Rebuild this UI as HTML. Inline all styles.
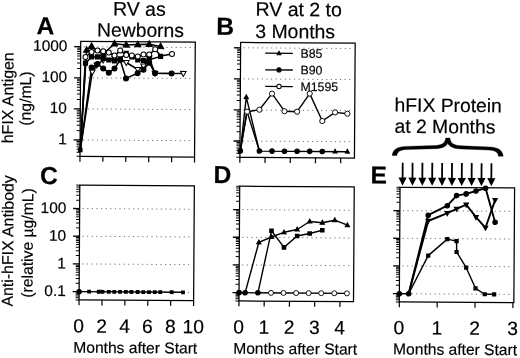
<!DOCTYPE html>
<html lang="en"><head><meta charset="utf-8"><title>Figure</title>
<style>
html,body{margin:0;padding:0;background:#fff;}
body{width:520px;height:358px;overflow:hidden;}
svg{display:block;font-family:"Liberation Sans", Arial, Helvetica, sans-serif;fill:#000;filter:blur(0.35px);}
text{stroke:#000;stroke-width:0.18px;}
</style></head><body>
<svg width="520" height="358" viewBox="0 0 520 358">
<rect width="520" height="358" fill="#fff"/>
<g transform="rotate(0.37 260.0 179.0)">
<rect x="79.85" y="42.60" width="114.55" height="114.85" fill="none" stroke="#000" stroke-width="1.25"/>
<line x1="82.85" y1="47.91" x2="193.40" y2="47.91" stroke="#555" stroke-width="0.9" stroke-dasharray="1.1 3.5"/>
<line x1="82.85" y1="78.99" x2="193.40" y2="78.99" stroke="#555" stroke-width="0.9" stroke-dasharray="1.1 3.5"/>
<line x1="82.85" y1="110.07" x2="193.40" y2="110.07" stroke="#555" stroke-width="0.9" stroke-dasharray="1.1 3.5"/>
<line x1="82.85" y1="141.15" x2="193.40" y2="141.15" stroke="#555" stroke-width="0.9" stroke-dasharray="1.1 3.5"/>
<line x1="76.35" y1="157.40" x2="79.85" y2="157.40" stroke="#000" stroke-width="1.0" />
<line x1="76.35" y1="153.52" x2="79.85" y2="153.52" stroke="#000" stroke-width="1.0" />
<line x1="76.35" y1="150.51" x2="79.85" y2="150.51" stroke="#000" stroke-width="1.0" />
<line x1="76.35" y1="148.05" x2="79.85" y2="148.05" stroke="#000" stroke-width="1.0" />
<line x1="76.35" y1="145.96" x2="79.85" y2="145.96" stroke="#000" stroke-width="1.0" />
<line x1="76.35" y1="144.16" x2="79.85" y2="144.16" stroke="#000" stroke-width="1.0" />
<line x1="76.35" y1="142.57" x2="79.85" y2="142.57" stroke="#000" stroke-width="1.0" />
<line x1="73.35" y1="141.15" x2="79.85" y2="141.15" stroke="#000" stroke-width="1.3" />
<line x1="76.35" y1="131.79" x2="79.85" y2="131.79" stroke="#000" stroke-width="1.0" />
<line x1="76.35" y1="126.32" x2="79.85" y2="126.32" stroke="#000" stroke-width="1.0" />
<line x1="76.35" y1="122.44" x2="79.85" y2="122.44" stroke="#000" stroke-width="1.0" />
<line x1="76.35" y1="119.43" x2="79.85" y2="119.43" stroke="#000" stroke-width="1.0" />
<line x1="76.35" y1="116.97" x2="79.85" y2="116.97" stroke="#000" stroke-width="1.0" />
<line x1="76.35" y1="114.88" x2="79.85" y2="114.88" stroke="#000" stroke-width="1.0" />
<line x1="76.35" y1="113.08" x2="79.85" y2="113.08" stroke="#000" stroke-width="1.0" />
<line x1="76.35" y1="111.49" x2="79.85" y2="111.49" stroke="#000" stroke-width="1.0" />
<line x1="73.35" y1="110.07" x2="79.85" y2="110.07" stroke="#000" stroke-width="1.3" />
<line x1="76.35" y1="100.71" x2="79.85" y2="100.71" stroke="#000" stroke-width="1.0" />
<line x1="76.35" y1="95.24" x2="79.85" y2="95.24" stroke="#000" stroke-width="1.0" />
<line x1="76.35" y1="91.36" x2="79.85" y2="91.36" stroke="#000" stroke-width="1.0" />
<line x1="76.35" y1="88.35" x2="79.85" y2="88.35" stroke="#000" stroke-width="1.0" />
<line x1="76.35" y1="85.89" x2="79.85" y2="85.89" stroke="#000" stroke-width="1.0" />
<line x1="76.35" y1="83.80" x2="79.85" y2="83.80" stroke="#000" stroke-width="1.0" />
<line x1="76.35" y1="82.00" x2="79.85" y2="82.00" stroke="#000" stroke-width="1.0" />
<line x1="76.35" y1="80.41" x2="79.85" y2="80.41" stroke="#000" stroke-width="1.0" />
<line x1="73.35" y1="78.99" x2="79.85" y2="78.99" stroke="#000" stroke-width="1.3" />
<line x1="76.35" y1="69.63" x2="79.85" y2="69.63" stroke="#000" stroke-width="1.0" />
<line x1="76.35" y1="64.16" x2="79.85" y2="64.16" stroke="#000" stroke-width="1.0" />
<line x1="76.35" y1="60.28" x2="79.85" y2="60.28" stroke="#000" stroke-width="1.0" />
<line x1="76.35" y1="57.27" x2="79.85" y2="57.27" stroke="#000" stroke-width="1.0" />
<line x1="76.35" y1="54.81" x2="79.85" y2="54.81" stroke="#000" stroke-width="1.0" />
<line x1="76.35" y1="52.72" x2="79.85" y2="52.72" stroke="#000" stroke-width="1.0" />
<line x1="76.35" y1="50.92" x2="79.85" y2="50.92" stroke="#000" stroke-width="1.0" />
<line x1="76.35" y1="49.33" x2="79.85" y2="49.33" stroke="#000" stroke-width="1.0" />
<line x1="73.35" y1="47.91" x2="79.85" y2="47.91" stroke="#000" stroke-width="1.3" />
<line x1="79.85" y1="157.45" x2="79.85" y2="162.85" stroke="#000" stroke-width="1.2" />
<line x1="102.76" y1="157.45" x2="102.76" y2="162.85" stroke="#000" stroke-width="1.2" />
<line x1="125.67" y1="157.45" x2="125.67" y2="162.85" stroke="#000" stroke-width="1.2" />
<line x1="148.58" y1="157.45" x2="148.58" y2="162.85" stroke="#000" stroke-width="1.2" />
<line x1="171.49" y1="157.45" x2="171.49" y2="162.85" stroke="#000" stroke-width="1.2" />
<line x1="194.40" y1="157.45" x2="194.40" y2="162.85" stroke="#000" stroke-width="1.2" />
<text x="66.50" y="52.31" font-size="15.4" text-anchor="end" font-weight="normal" >1000</text>
<text x="66.50" y="83.39" font-size="15.4" text-anchor="end" font-weight="normal" >100</text>
<text x="66.50" y="114.47" font-size="15.4" text-anchor="end" font-weight="normal" >10</text>
<text x="66.50" y="145.55" font-size="15.4" text-anchor="end" font-weight="normal" >1</text>
<polyline points="80.12,151.16 85.77,51.12 90.75,47.29 96.68,52.65 102.39,54.72 113.63,44.64 125.34,45.77 136.93,45.39 148.33,44.92 159.75,47.04" fill="none" stroke="#000" stroke-width="1.5" stroke-linejoin="round"/>
<polyline points="80.12,151.16 84.72,58.03 90.78,53.09 96.67,51.65 102.38,52.22 107.99,53.48 113.71,56.54 119.37,51.51 125.40,55.87 131.01,56.33 137.01,57.19 142.70,55.35 148.40,55.32 154.36,49.98 160.01,56.64 171.19,54.47" fill="none" stroke="#000" stroke-width="1.5" stroke-linejoin="round"/>
<polyline points="80.12,151.16 84.76,64.33 90.82,57.99 96.71,57.95 102.42,59.42 108.03,60.98 113.74,61.74 119.43,59.71 125.39,54.27 131.01,57.83 137.03,60.59 142.74,61.25 148.43,60.42 159.81,57.04" fill="none" stroke="#000" stroke-width="1.5" stroke-linejoin="round"/>
<polyline points="80.12,151.16 90.88,68.69 96.76,65.05 102.49,69.41 108.12,73.78 113.79,69.54 119.43,60.91 125.35,79.27 136.92,73.99 142.80,70.45 148.45,63.42 154.32,73.98 170.92,73.97" fill="none" stroke="#000" stroke-width="1.5" stroke-linejoin="round"/>
<polyline points="80.12,151.16 91.61,73.09 96.17,66.06 102.43,61.02 113.72,58.94 125.55,63.37 137.10,70.29 142.77,66.75 148.42,58.72 154.32,73.98 182.62,73.90" fill="none" stroke="#000" stroke-width="1.5" stroke-linejoin="round"/>
<polygon points="91.61,76.11 88.81,71.07 94.41,71.07" fill="#fff" stroke="#000" stroke-width="1.0"/>
<polygon points="96.17,69.08 93.37,64.04 98.97,64.04" fill="#fff" stroke="#000" stroke-width="1.0"/>
<polygon points="102.43,64.04 99.63,59.00 105.23,59.00" fill="#fff" stroke="#000" stroke-width="1.0"/>
<polygon points="113.72,61.97 110.92,56.93 116.52,56.93" fill="#fff" stroke="#000" stroke-width="1.0"/>
<polygon points="125.55,66.39 122.75,61.35 128.35,61.35" fill="#fff" stroke="#000" stroke-width="1.0"/>
<polygon points="137.10,73.32 134.30,68.28 139.90,68.28" fill="#fff" stroke="#000" stroke-width="1.0"/>
<polygon points="142.77,69.78 139.97,64.74 145.57,64.74" fill="#fff" stroke="#000" stroke-width="1.0"/>
<polygon points="148.42,61.74 145.62,56.70 151.22,56.70" fill="#fff" stroke="#000" stroke-width="1.0"/>
<polygon points="154.32,77.00 151.52,71.96 157.12,71.96" fill="#fff" stroke="#000" stroke-width="1.0"/>
<polygon points="182.62,76.92 179.82,71.88 185.42,71.88" fill="#fff" stroke="#000" stroke-width="1.0"/>
<circle cx="90.88" cy="68.69" r="2.5" fill="#000" stroke="#000" stroke-width="1.0"/>
<circle cx="96.76" cy="65.05" r="2.5" fill="#000" stroke="#000" stroke-width="1.0"/>
<circle cx="102.49" cy="69.41" r="2.5" fill="#000" stroke="#000" stroke-width="1.0"/>
<circle cx="108.12" cy="73.78" r="2.5" fill="#000" stroke="#000" stroke-width="1.0"/>
<circle cx="113.79" cy="69.54" r="2.5" fill="#000" stroke="#000" stroke-width="1.0"/>
<circle cx="119.43" cy="60.91" r="2.5" fill="#000" stroke="#000" stroke-width="1.0"/>
<circle cx="125.35" cy="79.27" r="2.5" fill="#000" stroke="#000" stroke-width="1.0"/>
<circle cx="136.92" cy="73.99" r="2.5" fill="#000" stroke="#000" stroke-width="1.0"/>
<circle cx="142.80" cy="70.45" r="2.5" fill="#000" stroke="#000" stroke-width="1.0"/>
<circle cx="148.45" cy="63.42" r="2.5" fill="#000" stroke="#000" stroke-width="1.0"/>
<circle cx="154.32" cy="73.98" r="2.5" fill="#000" stroke="#000" stroke-width="1.0"/>
<circle cx="170.92" cy="73.97" r="2.5" fill="#000" stroke="#000" stroke-width="1.0"/>
<rect x="82.16" y="61.73" width="5.2" height="5.2" fill="#000"/>
<rect x="88.22" y="55.39" width="5.2" height="5.2" fill="#000"/>
<rect x="94.11" y="55.35" width="5.2" height="5.2" fill="#000"/>
<rect x="99.82" y="56.82" width="5.2" height="5.2" fill="#000"/>
<rect x="105.43" y="58.38" width="5.2" height="5.2" fill="#000"/>
<rect x="111.14" y="59.14" width="5.2" height="5.2" fill="#000"/>
<rect x="116.83" y="57.11" width="5.2" height="5.2" fill="#000"/>
<rect x="122.79" y="51.67" width="5.2" height="5.2" fill="#000"/>
<rect x="128.41" y="55.23" width="5.2" height="5.2" fill="#000"/>
<rect x="134.43" y="57.99" width="5.2" height="5.2" fill="#000"/>
<rect x="140.14" y="58.65" width="5.2" height="5.2" fill="#000"/>
<rect x="145.83" y="57.82" width="5.2" height="5.2" fill="#000"/>
<rect x="157.21" y="54.44" width="5.2" height="5.2" fill="#000"/>
<polygon points="85.77,47.77 82.67,53.35 88.87,53.35" fill="#000" stroke="#000" stroke-width="1.0"/>
<polygon points="90.75,43.94 87.65,49.52 93.85,49.52" fill="#000" stroke="#000" stroke-width="1.0"/>
<polygon points="102.39,51.37 99.29,56.95 105.49,56.95" fill="#000" stroke="#000" stroke-width="1.0"/>
<polygon points="113.63,41.29 110.53,46.87 116.73,46.87" fill="#000" stroke="#000" stroke-width="1.0"/>
<polygon points="125.34,42.42 122.24,48.00 128.44,48.00" fill="#000" stroke="#000" stroke-width="1.0"/>
<polygon points="136.93,42.04 133.83,47.62 140.03,47.62" fill="#000" stroke="#000" stroke-width="1.0"/>
<polygon points="148.33,41.57 145.23,47.15 151.43,47.15" fill="#000" stroke="#000" stroke-width="1.0"/>
<polygon points="159.75,43.70 156.65,49.28 162.85,49.28" fill="#000" stroke="#000" stroke-width="1.0"/>
<circle cx="84.72" cy="58.03" r="2.5" fill="#fff" stroke="#000" stroke-width="1.0"/>
<circle cx="90.78" cy="53.09" r="2.5" fill="#fff" stroke="#000" stroke-width="1.0"/>
<circle cx="96.67" cy="51.65" r="2.5" fill="#fff" stroke="#000" stroke-width="1.0"/>
<circle cx="102.38" cy="52.22" r="2.5" fill="#fff" stroke="#000" stroke-width="1.0"/>
<circle cx="107.99" cy="53.48" r="2.5" fill="#fff" stroke="#000" stroke-width="1.0"/>
<circle cx="113.71" cy="56.54" r="2.5" fill="#fff" stroke="#000" stroke-width="1.0"/>
<circle cx="119.37" cy="51.51" r="2.5" fill="#fff" stroke="#000" stroke-width="1.0"/>
<circle cx="125.40" cy="55.87" r="2.5" fill="#fff" stroke="#000" stroke-width="1.0"/>
<circle cx="131.01" cy="56.33" r="2.5" fill="#fff" stroke="#000" stroke-width="1.0"/>
<circle cx="137.01" cy="57.19" r="2.5" fill="#fff" stroke="#000" stroke-width="1.0"/>
<circle cx="142.70" cy="55.35" r="2.5" fill="#fff" stroke="#000" stroke-width="1.0"/>
<circle cx="148.40" cy="55.32" r="2.5" fill="#fff" stroke="#000" stroke-width="1.0"/>
<circle cx="154.36" cy="49.98" r="2.5" fill="#fff" stroke="#000" stroke-width="1.0"/>
<circle cx="171.19" cy="54.47" r="2.5" fill="#fff" stroke="#000" stroke-width="1.0"/>
<rect x="77.87" y="148.91" width="4.5" height="4.5" fill="#000"/>
<rect x="239.75" y="42.60" width="114.55" height="114.85" fill="none" stroke="#000" stroke-width="1.25"/>
<line x1="242.75" y1="47.91" x2="353.30" y2="47.91" stroke="#555" stroke-width="0.9" stroke-dasharray="1.1 3.5"/>
<line x1="242.75" y1="78.99" x2="353.30" y2="78.99" stroke="#555" stroke-width="0.9" stroke-dasharray="1.1 3.5"/>
<line x1="242.75" y1="110.07" x2="353.30" y2="110.07" stroke="#555" stroke-width="0.9" stroke-dasharray="1.1 3.5"/>
<line x1="242.75" y1="141.15" x2="353.30" y2="141.15" stroke="#555" stroke-width="0.9" stroke-dasharray="1.1 3.5"/>
<line x1="236.25" y1="157.40" x2="239.75" y2="157.40" stroke="#000" stroke-width="1.0" />
<line x1="236.25" y1="153.52" x2="239.75" y2="153.52" stroke="#000" stroke-width="1.0" />
<line x1="236.25" y1="150.51" x2="239.75" y2="150.51" stroke="#000" stroke-width="1.0" />
<line x1="236.25" y1="148.05" x2="239.75" y2="148.05" stroke="#000" stroke-width="1.0" />
<line x1="236.25" y1="145.96" x2="239.75" y2="145.96" stroke="#000" stroke-width="1.0" />
<line x1="236.25" y1="144.16" x2="239.75" y2="144.16" stroke="#000" stroke-width="1.0" />
<line x1="236.25" y1="142.57" x2="239.75" y2="142.57" stroke="#000" stroke-width="1.0" />
<line x1="233.25" y1="141.15" x2="239.75" y2="141.15" stroke="#000" stroke-width="1.3" />
<line x1="236.25" y1="131.79" x2="239.75" y2="131.79" stroke="#000" stroke-width="1.0" />
<line x1="236.25" y1="126.32" x2="239.75" y2="126.32" stroke="#000" stroke-width="1.0" />
<line x1="236.25" y1="122.44" x2="239.75" y2="122.44" stroke="#000" stroke-width="1.0" />
<line x1="236.25" y1="119.43" x2="239.75" y2="119.43" stroke="#000" stroke-width="1.0" />
<line x1="236.25" y1="116.97" x2="239.75" y2="116.97" stroke="#000" stroke-width="1.0" />
<line x1="236.25" y1="114.88" x2="239.75" y2="114.88" stroke="#000" stroke-width="1.0" />
<line x1="236.25" y1="113.08" x2="239.75" y2="113.08" stroke="#000" stroke-width="1.0" />
<line x1="236.25" y1="111.49" x2="239.75" y2="111.49" stroke="#000" stroke-width="1.0" />
<line x1="233.25" y1="110.07" x2="239.75" y2="110.07" stroke="#000" stroke-width="1.3" />
<line x1="236.25" y1="100.71" x2="239.75" y2="100.71" stroke="#000" stroke-width="1.0" />
<line x1="236.25" y1="95.24" x2="239.75" y2="95.24" stroke="#000" stroke-width="1.0" />
<line x1="236.25" y1="91.36" x2="239.75" y2="91.36" stroke="#000" stroke-width="1.0" />
<line x1="236.25" y1="88.35" x2="239.75" y2="88.35" stroke="#000" stroke-width="1.0" />
<line x1="236.25" y1="85.89" x2="239.75" y2="85.89" stroke="#000" stroke-width="1.0" />
<line x1="236.25" y1="83.80" x2="239.75" y2="83.80" stroke="#000" stroke-width="1.0" />
<line x1="236.25" y1="82.00" x2="239.75" y2="82.00" stroke="#000" stroke-width="1.0" />
<line x1="236.25" y1="80.41" x2="239.75" y2="80.41" stroke="#000" stroke-width="1.0" />
<line x1="233.25" y1="78.99" x2="239.75" y2="78.99" stroke="#000" stroke-width="1.3" />
<line x1="236.25" y1="69.63" x2="239.75" y2="69.63" stroke="#000" stroke-width="1.0" />
<line x1="236.25" y1="64.16" x2="239.75" y2="64.16" stroke="#000" stroke-width="1.0" />
<line x1="236.25" y1="60.28" x2="239.75" y2="60.28" stroke="#000" stroke-width="1.0" />
<line x1="236.25" y1="57.27" x2="239.75" y2="57.27" stroke="#000" stroke-width="1.0" />
<line x1="236.25" y1="54.81" x2="239.75" y2="54.81" stroke="#000" stroke-width="1.0" />
<line x1="236.25" y1="52.72" x2="239.75" y2="52.72" stroke="#000" stroke-width="1.0" />
<line x1="236.25" y1="50.92" x2="239.75" y2="50.92" stroke="#000" stroke-width="1.0" />
<line x1="236.25" y1="49.33" x2="239.75" y2="49.33" stroke="#000" stroke-width="1.0" />
<line x1="233.25" y1="47.91" x2="239.75" y2="47.91" stroke="#000" stroke-width="1.3" />
<line x1="239.75" y1="157.45" x2="239.75" y2="162.85" stroke="#000" stroke-width="1.2" />
<line x1="264.95" y1="157.45" x2="264.95" y2="162.85" stroke="#000" stroke-width="1.2" />
<line x1="290.15" y1="157.45" x2="290.15" y2="162.85" stroke="#000" stroke-width="1.2" />
<line x1="315.35" y1="157.45" x2="315.35" y2="162.85" stroke="#000" stroke-width="1.2" />
<line x1="340.55" y1="157.45" x2="340.55" y2="162.85" stroke="#000" stroke-width="1.2" />
<polyline points="240.12,151.03 245.77,97.19 259.22,151.10 347.22,151.24" fill="none" stroke="#000" stroke-width="1.4" stroke-linejoin="round"/>
<polyline points="240.12,151.03 246.56,111.49 259.22,151.10" fill="none" stroke="#000" stroke-width="1.4" stroke-linejoin="round"/>
<polyline points="240.12,151.03 246.67,111.78 258.95,109.71 271.45,93.52 284.06,111.04 296.66,111.46 309.15,93.28 321.92,120.60 334.67,111.92 346.98,113.14" fill="none" stroke="#000" stroke-width="1.4" stroke-linejoin="round"/>
<circle cx="240.12" cy="151.03" r="2.3" fill="#000" stroke="#000" stroke-width="1.0"/>
<circle cx="259.22" cy="151.03" r="2.3" fill="#000" stroke="#000" stroke-width="1.0"/>
<circle cx="271.82" cy="151.03" r="2.3" fill="#000" stroke="#000" stroke-width="1.0"/>
<circle cx="284.32" cy="151.03" r="2.3" fill="#000" stroke="#000" stroke-width="1.0"/>
<circle cx="296.92" cy="151.03" r="2.3" fill="#000" stroke="#000" stroke-width="1.0"/>
<circle cx="309.52" cy="151.03" r="2.3" fill="#000" stroke="#000" stroke-width="1.0"/>
<circle cx="322.12" cy="151.03" r="2.3" fill="#000" stroke="#000" stroke-width="1.0"/>
<polygon points="334.92,148.77 332.82,152.55 337.02,152.55" fill="#000" stroke="#000" stroke-width="1.0"/>
<polygon points="347.22,148.77 345.12,152.55 349.32,152.55" fill="#000" stroke="#000" stroke-width="1.0"/>
<polygon points="245.77,94.92 243.67,98.70 247.87,98.70" fill="#000" stroke="#000" stroke-width="1.0"/>
<circle cx="246.67" cy="111.78" r="2.6" fill="#fff" stroke="#000" stroke-width="0.95"/>
<circle cx="258.95" cy="109.71" r="2.6" fill="#fff" stroke="#000" stroke-width="0.95"/>
<circle cx="271.45" cy="93.52" r="2.6" fill="#fff" stroke="#000" stroke-width="0.95"/>
<circle cx="284.06" cy="111.04" r="2.6" fill="#fff" stroke="#000" stroke-width="0.95"/>
<circle cx="296.66" cy="111.46" r="2.6" fill="#fff" stroke="#000" stroke-width="0.95"/>
<circle cx="309.15" cy="93.28" r="2.6" fill="#fff" stroke="#000" stroke-width="0.95"/>
<circle cx="321.92" cy="120.60" r="2.6" fill="#fff" stroke="#000" stroke-width="0.95"/>
<circle cx="334.67" cy="111.92" r="2.6" fill="#fff" stroke="#000" stroke-width="0.95"/>
<circle cx="346.98" cy="113.14" r="2.6" fill="#fff" stroke="#000" stroke-width="0.95"/>
<line x1="264.39" y1="53.17" x2="291.99" y2="53.17" stroke="#000" stroke-width="1.3" />
<polygon points="278.19,51.13 276.29,54.55 280.09,54.55" fill="#000" stroke="#000" stroke-width="1.0"/>
<text x="299.72" y="57.44" font-size="12.3" text-anchor="start" font-weight="normal" >B85</text>
<line x1="264.49" y1="69.77" x2="292.10" y2="69.77" stroke="#000" stroke-width="1.3" />
<circle cx="278.30" cy="69.78" r="2.1" fill="#000" stroke="#000" stroke-width="1.0"/>
<text x="299.82" y="74.04" font-size="12.3" text-anchor="start" font-weight="normal" >B90</text>
<line x1="264.60" y1="86.37" x2="292.20" y2="86.37" stroke="#000" stroke-width="1.3" />
<circle cx="278.40" cy="86.38" r="2.2" fill="#fff" stroke="#000" stroke-width="1.0"/>
<text x="299.93" y="90.64" font-size="12.3" text-anchor="start" font-weight="normal" >M1595</text>
<rect x="79.85" y="186.35" width="114.55" height="114.70" fill="none" stroke="#000" stroke-width="1.25"/>
<line x1="82.85" y1="209.70" x2="193.40" y2="209.70" stroke="#555" stroke-width="0.9" stroke-dasharray="1.1 3.5"/>
<line x1="82.85" y1="237.40" x2="193.40" y2="237.40" stroke="#555" stroke-width="0.9" stroke-dasharray="1.1 3.5"/>
<line x1="82.85" y1="265.10" x2="193.40" y2="265.10" stroke="#555" stroke-width="0.9" stroke-dasharray="1.1 3.5"/>
<line x1="82.85" y1="292.80" x2="193.40" y2="292.80" stroke="#555" stroke-width="0.9" stroke-dasharray="1.1 3.5"/>
<line x1="76.35" y1="301.14" x2="79.85" y2="301.14" stroke="#000" stroke-width="1.0" />
<line x1="76.35" y1="298.95" x2="79.85" y2="298.95" stroke="#000" stroke-width="1.0" />
<line x1="76.35" y1="297.09" x2="79.85" y2="297.09" stroke="#000" stroke-width="1.0" />
<line x1="76.35" y1="295.48" x2="79.85" y2="295.48" stroke="#000" stroke-width="1.0" />
<line x1="76.35" y1="294.07" x2="79.85" y2="294.07" stroke="#000" stroke-width="1.0" />
<line x1="73.35" y1="292.80" x2="79.85" y2="292.80" stroke="#000" stroke-width="1.3" />
<line x1="76.35" y1="284.46" x2="79.85" y2="284.46" stroke="#000" stroke-width="1.0" />
<line x1="76.35" y1="279.58" x2="79.85" y2="279.58" stroke="#000" stroke-width="1.0" />
<line x1="76.35" y1="276.12" x2="79.85" y2="276.12" stroke="#000" stroke-width="1.0" />
<line x1="76.35" y1="273.44" x2="79.85" y2="273.44" stroke="#000" stroke-width="1.0" />
<line x1="76.35" y1="271.25" x2="79.85" y2="271.25" stroke="#000" stroke-width="1.0" />
<line x1="76.35" y1="269.39" x2="79.85" y2="269.39" stroke="#000" stroke-width="1.0" />
<line x1="76.35" y1="267.78" x2="79.85" y2="267.78" stroke="#000" stroke-width="1.0" />
<line x1="76.35" y1="266.37" x2="79.85" y2="266.37" stroke="#000" stroke-width="1.0" />
<line x1="73.35" y1="265.10" x2="79.85" y2="265.10" stroke="#000" stroke-width="1.3" />
<line x1="76.35" y1="256.76" x2="79.85" y2="256.76" stroke="#000" stroke-width="1.0" />
<line x1="76.35" y1="251.88" x2="79.85" y2="251.88" stroke="#000" stroke-width="1.0" />
<line x1="76.35" y1="248.42" x2="79.85" y2="248.42" stroke="#000" stroke-width="1.0" />
<line x1="76.35" y1="245.74" x2="79.85" y2="245.74" stroke="#000" stroke-width="1.0" />
<line x1="76.35" y1="243.55" x2="79.85" y2="243.55" stroke="#000" stroke-width="1.0" />
<line x1="76.35" y1="241.69" x2="79.85" y2="241.69" stroke="#000" stroke-width="1.0" />
<line x1="76.35" y1="240.08" x2="79.85" y2="240.08" stroke="#000" stroke-width="1.0" />
<line x1="76.35" y1="238.67" x2="79.85" y2="238.67" stroke="#000" stroke-width="1.0" />
<line x1="73.35" y1="237.40" x2="79.85" y2="237.40" stroke="#000" stroke-width="1.3" />
<line x1="76.35" y1="229.06" x2="79.85" y2="229.06" stroke="#000" stroke-width="1.0" />
<line x1="76.35" y1="224.18" x2="79.85" y2="224.18" stroke="#000" stroke-width="1.0" />
<line x1="76.35" y1="220.72" x2="79.85" y2="220.72" stroke="#000" stroke-width="1.0" />
<line x1="76.35" y1="218.04" x2="79.85" y2="218.04" stroke="#000" stroke-width="1.0" />
<line x1="76.35" y1="215.85" x2="79.85" y2="215.85" stroke="#000" stroke-width="1.0" />
<line x1="76.35" y1="213.99" x2="79.85" y2="213.99" stroke="#000" stroke-width="1.0" />
<line x1="76.35" y1="212.38" x2="79.85" y2="212.38" stroke="#000" stroke-width="1.0" />
<line x1="76.35" y1="210.97" x2="79.85" y2="210.97" stroke="#000" stroke-width="1.0" />
<line x1="73.35" y1="209.70" x2="79.85" y2="209.70" stroke="#000" stroke-width="1.3" />
<line x1="76.35" y1="201.36" x2="79.85" y2="201.36" stroke="#000" stroke-width="1.0" />
<line x1="76.35" y1="196.48" x2="79.85" y2="196.48" stroke="#000" stroke-width="1.0" />
<line x1="76.35" y1="193.02" x2="79.85" y2="193.02" stroke="#000" stroke-width="1.0" />
<line x1="76.35" y1="190.34" x2="79.85" y2="190.34" stroke="#000" stroke-width="1.0" />
<line x1="76.35" y1="188.15" x2="79.85" y2="188.15" stroke="#000" stroke-width="1.0" />
<line x1="76.35" y1="186.29" x2="79.85" y2="186.29" stroke="#000" stroke-width="1.0" />
<line x1="79.85" y1="301.05" x2="79.85" y2="306.45" stroke="#000" stroke-width="1.2" />
<line x1="102.76" y1="301.05" x2="102.76" y2="306.45" stroke="#000" stroke-width="1.2" />
<line x1="125.67" y1="301.05" x2="125.67" y2="306.45" stroke="#000" stroke-width="1.2" />
<line x1="148.58" y1="301.05" x2="148.58" y2="306.45" stroke="#000" stroke-width="1.2" />
<line x1="171.49" y1="301.05" x2="171.49" y2="306.45" stroke="#000" stroke-width="1.2" />
<line x1="194.40" y1="301.05" x2="194.40" y2="306.45" stroke="#000" stroke-width="1.2" />
<text x="66.50" y="214.30" font-size="15.4" text-anchor="end" font-weight="normal" >100</text>
<text x="66.50" y="242.00" font-size="15.4" text-anchor="end" font-weight="normal" >10</text>
<text x="66.50" y="269.70" font-size="15.4" text-anchor="end" font-weight="normal" >1</text>
<text x="66.50" y="297.40" font-size="15.4" text-anchor="end" font-weight="normal" >0.1</text>
<line x1="79.85" y1="292.80" x2="183.70" y2="292.80" stroke="#000" stroke-width="1.4" />
<rect x="77.95" y="290.90" width="3.8" height="3.8" fill="#000"/>
<rect x="88.00" y="290.90" width="3.8" height="3.8" fill="#000"/>
<rect x="97.60" y="290.90" width="3.8" height="3.8" fill="#000"/>
<rect x="101.30" y="290.90" width="3.8" height="3.8" fill="#000"/>
<rect x="107.60" y="290.90" width="3.8" height="3.8" fill="#000"/>
<rect x="113.10" y="290.90" width="3.8" height="3.8" fill="#000"/>
<rect x="118.90" y="290.90" width="3.8" height="3.8" fill="#000"/>
<rect x="124.70" y="290.90" width="3.8" height="3.8" fill="#000"/>
<rect x="130.20" y="290.90" width="3.8" height="3.8" fill="#000"/>
<rect x="136.50" y="290.90" width="3.8" height="3.8" fill="#000"/>
<rect x="142.10" y="290.90" width="3.8" height="3.8" fill="#000"/>
<rect x="147.80" y="290.90" width="3.8" height="3.8" fill="#000"/>
<rect x="153.60" y="290.90" width="3.8" height="3.8" fill="#000"/>
<rect x="159.10" y="290.90" width="3.8" height="3.8" fill="#000"/>
<rect x="170.50" y="290.90" width="3.8" height="3.8" fill="#000"/>
<rect x="181.80" y="290.90" width="3.8" height="3.8" fill="#000"/>
<circle cx="79.85" cy="292.80" r="2.2" fill="#000" stroke="#000" stroke-width="1.0"/>
<text x="79.65" y="333.70" font-size="19.2" text-anchor="middle" font-weight="normal" >0</text>
<text x="102.56" y="333.70" font-size="19.2" text-anchor="middle" font-weight="normal" >2</text>
<text x="125.47" y="333.70" font-size="19.2" text-anchor="middle" font-weight="normal" >4</text>
<text x="148.38" y="333.70" font-size="19.2" text-anchor="middle" font-weight="normal" >6</text>
<text x="171.29" y="333.70" font-size="19.2" text-anchor="middle" font-weight="normal" >8</text>
<text x="194.20" y="333.70" font-size="19.2" text-anchor="middle" font-weight="normal" >10</text>
<text x="136.35" y="353.90" font-size="15.6" text-anchor="middle" font-weight="normal" >Months after Start</text>
<rect x="239.75" y="186.35" width="114.55" height="114.70" fill="none" stroke="#000" stroke-width="1.25"/>
<line x1="242.75" y1="209.70" x2="353.30" y2="209.70" stroke="#555" stroke-width="0.9" stroke-dasharray="1.1 3.5"/>
<line x1="242.75" y1="237.40" x2="353.30" y2="237.40" stroke="#555" stroke-width="0.9" stroke-dasharray="1.1 3.5"/>
<line x1="242.75" y1="265.10" x2="353.30" y2="265.10" stroke="#555" stroke-width="0.9" stroke-dasharray="1.1 3.5"/>
<line x1="242.75" y1="292.80" x2="353.30" y2="292.80" stroke="#555" stroke-width="0.9" stroke-dasharray="1.1 3.5"/>
<line x1="236.25" y1="301.14" x2="239.75" y2="301.14" stroke="#000" stroke-width="1.0" />
<line x1="236.25" y1="298.95" x2="239.75" y2="298.95" stroke="#000" stroke-width="1.0" />
<line x1="236.25" y1="297.09" x2="239.75" y2="297.09" stroke="#000" stroke-width="1.0" />
<line x1="236.25" y1="295.48" x2="239.75" y2="295.48" stroke="#000" stroke-width="1.0" />
<line x1="236.25" y1="294.07" x2="239.75" y2="294.07" stroke="#000" stroke-width="1.0" />
<line x1="233.25" y1="292.80" x2="239.75" y2="292.80" stroke="#000" stroke-width="1.3" />
<line x1="236.25" y1="284.46" x2="239.75" y2="284.46" stroke="#000" stroke-width="1.0" />
<line x1="236.25" y1="279.58" x2="239.75" y2="279.58" stroke="#000" stroke-width="1.0" />
<line x1="236.25" y1="276.12" x2="239.75" y2="276.12" stroke="#000" stroke-width="1.0" />
<line x1="236.25" y1="273.44" x2="239.75" y2="273.44" stroke="#000" stroke-width="1.0" />
<line x1="236.25" y1="271.25" x2="239.75" y2="271.25" stroke="#000" stroke-width="1.0" />
<line x1="236.25" y1="269.39" x2="239.75" y2="269.39" stroke="#000" stroke-width="1.0" />
<line x1="236.25" y1="267.78" x2="239.75" y2="267.78" stroke="#000" stroke-width="1.0" />
<line x1="236.25" y1="266.37" x2="239.75" y2="266.37" stroke="#000" stroke-width="1.0" />
<line x1="233.25" y1="265.10" x2="239.75" y2="265.10" stroke="#000" stroke-width="1.3" />
<line x1="236.25" y1="256.76" x2="239.75" y2="256.76" stroke="#000" stroke-width="1.0" />
<line x1="236.25" y1="251.88" x2="239.75" y2="251.88" stroke="#000" stroke-width="1.0" />
<line x1="236.25" y1="248.42" x2="239.75" y2="248.42" stroke="#000" stroke-width="1.0" />
<line x1="236.25" y1="245.74" x2="239.75" y2="245.74" stroke="#000" stroke-width="1.0" />
<line x1="236.25" y1="243.55" x2="239.75" y2="243.55" stroke="#000" stroke-width="1.0" />
<line x1="236.25" y1="241.69" x2="239.75" y2="241.69" stroke="#000" stroke-width="1.0" />
<line x1="236.25" y1="240.08" x2="239.75" y2="240.08" stroke="#000" stroke-width="1.0" />
<line x1="236.25" y1="238.67" x2="239.75" y2="238.67" stroke="#000" stroke-width="1.0" />
<line x1="233.25" y1="237.40" x2="239.75" y2="237.40" stroke="#000" stroke-width="1.3" />
<line x1="236.25" y1="229.06" x2="239.75" y2="229.06" stroke="#000" stroke-width="1.0" />
<line x1="236.25" y1="224.18" x2="239.75" y2="224.18" stroke="#000" stroke-width="1.0" />
<line x1="236.25" y1="220.72" x2="239.75" y2="220.72" stroke="#000" stroke-width="1.0" />
<line x1="236.25" y1="218.04" x2="239.75" y2="218.04" stroke="#000" stroke-width="1.0" />
<line x1="236.25" y1="215.85" x2="239.75" y2="215.85" stroke="#000" stroke-width="1.0" />
<line x1="236.25" y1="213.99" x2="239.75" y2="213.99" stroke="#000" stroke-width="1.0" />
<line x1="236.25" y1="212.38" x2="239.75" y2="212.38" stroke="#000" stroke-width="1.0" />
<line x1="236.25" y1="210.97" x2="239.75" y2="210.97" stroke="#000" stroke-width="1.0" />
<line x1="233.25" y1="209.70" x2="239.75" y2="209.70" stroke="#000" stroke-width="1.3" />
<line x1="236.25" y1="201.36" x2="239.75" y2="201.36" stroke="#000" stroke-width="1.0" />
<line x1="236.25" y1="196.48" x2="239.75" y2="196.48" stroke="#000" stroke-width="1.0" />
<line x1="236.25" y1="193.02" x2="239.75" y2="193.02" stroke="#000" stroke-width="1.0" />
<line x1="236.25" y1="190.34" x2="239.75" y2="190.34" stroke="#000" stroke-width="1.0" />
<line x1="236.25" y1="188.15" x2="239.75" y2="188.15" stroke="#000" stroke-width="1.0" />
<line x1="236.25" y1="186.29" x2="239.75" y2="186.29" stroke="#000" stroke-width="1.0" />
<line x1="239.75" y1="301.05" x2="239.75" y2="306.45" stroke="#000" stroke-width="1.2" />
<line x1="265.00" y1="301.05" x2="265.00" y2="306.45" stroke="#000" stroke-width="1.2" />
<line x1="290.25" y1="301.05" x2="290.25" y2="306.45" stroke="#000" stroke-width="1.2" />
<line x1="315.50" y1="301.05" x2="315.50" y2="306.45" stroke="#000" stroke-width="1.2" />
<line x1="340.75" y1="301.05" x2="340.75" y2="306.45" stroke="#000" stroke-width="1.2" />
<line x1="239.75" y1="292.80" x2="347.65" y2="292.80" stroke="#000" stroke-width="1.3" />
<polyline points="239.75,292.80 245.85,292.80 259.31,242.31 271.87,236.92 284.34,232.14 297.43,229.26 309.97,221.18 322.58,222.30 335.06,219.72 347.70,224.63" fill="none" stroke="#000" stroke-width="1.4" stroke-linejoin="round"/>
<polyline points="258.65,292.80 271.83,230.72 284.44,247.24 297.47,235.76 310.05,233.18 322.63,229.90" fill="none" stroke="#000" stroke-width="1.4" stroke-linejoin="round"/>
<circle cx="239.75" cy="292.80" r="2.3" fill="#000" stroke="#000" stroke-width="1.0"/>
<circle cx="245.85" cy="292.80" r="2.3" fill="#000" stroke="#000" stroke-width="1.0"/>
<circle cx="258.65" cy="292.80" r="2.3" fill="#000" stroke="#000" stroke-width="1.0"/>
<circle cx="271.75" cy="292.80" r="2.5" fill="#fff" stroke="#000" stroke-width="0.9"/>
<circle cx="284.25" cy="292.80" r="2.5" fill="#fff" stroke="#000" stroke-width="0.9"/>
<circle cx="296.85" cy="292.80" r="2.5" fill="#fff" stroke="#000" stroke-width="0.9"/>
<circle cx="309.45" cy="292.80" r="2.5" fill="#fff" stroke="#000" stroke-width="0.9"/>
<circle cx="321.95" cy="292.80" r="2.5" fill="#fff" stroke="#000" stroke-width="0.9"/>
<circle cx="335.05" cy="292.80" r="2.5" fill="#fff" stroke="#000" stroke-width="0.9"/>
<circle cx="347.65" cy="292.80" r="2.5" fill="#fff" stroke="#000" stroke-width="0.9"/>
<polygon points="259.31,239.93 257.11,243.89 261.51,243.89" fill="#000" stroke="#000" stroke-width="1.0"/>
<polygon points="271.87,234.55 269.67,238.51 274.07,238.51" fill="#000" stroke="#000" stroke-width="1.0"/>
<polygon points="284.34,229.77 282.14,233.73 286.54,233.73" fill="#000" stroke="#000" stroke-width="1.0"/>
<polygon points="297.43,226.88 295.23,230.84 299.63,230.84" fill="#000" stroke="#000" stroke-width="1.0"/>
<polygon points="309.97,218.80 307.77,222.76 312.17,222.76" fill="#000" stroke="#000" stroke-width="1.0"/>
<polygon points="322.58,219.92 320.38,223.88 324.78,223.88" fill="#000" stroke="#000" stroke-width="1.0"/>
<polygon points="335.06,217.34 332.86,221.30 337.26,221.30" fill="#000" stroke="#000" stroke-width="1.0"/>
<polygon points="347.70,222.26 345.50,226.22 349.90,226.22" fill="#000" stroke="#000" stroke-width="1.0"/>
<rect x="269.53" y="228.42" width="4.6" height="4.6" fill="#000"/>
<rect x="282.14" y="244.94" width="4.6" height="4.6" fill="#000"/>
<rect x="295.17" y="233.46" width="4.6" height="4.6" fill="#000"/>
<rect x="307.75" y="230.88" width="4.6" height="4.6" fill="#000"/>
<rect x="320.33" y="227.60" width="4.6" height="4.6" fill="#000"/>
<text x="239.55" y="333.70" font-size="19.2" text-anchor="middle" font-weight="normal" >0</text>
<text x="264.80" y="333.70" font-size="19.2" text-anchor="middle" font-weight="normal" >1</text>
<text x="290.05" y="333.70" font-size="19.2" text-anchor="middle" font-weight="normal" >2</text>
<text x="315.30" y="333.70" font-size="19.2" text-anchor="middle" font-weight="normal" >3</text>
<text x="340.55" y="333.70" font-size="19.2" text-anchor="middle" font-weight="normal" >4</text>
<text x="296.25" y="353.90" font-size="15.6" text-anchor="middle" font-weight="normal" >Months after Start</text>
<rect x="400.10" y="186.35" width="114.55" height="114.70" fill="none" stroke="#000" stroke-width="1.25"/>
<line x1="403.10" y1="209.70" x2="513.65" y2="209.70" stroke="#555" stroke-width="0.9" stroke-dasharray="1.1 3.5"/>
<line x1="403.10" y1="237.40" x2="513.65" y2="237.40" stroke="#555" stroke-width="0.9" stroke-dasharray="1.1 3.5"/>
<line x1="403.10" y1="265.10" x2="513.65" y2="265.10" stroke="#555" stroke-width="0.9" stroke-dasharray="1.1 3.5"/>
<line x1="403.10" y1="292.80" x2="513.65" y2="292.80" stroke="#555" stroke-width="0.9" stroke-dasharray="1.1 3.5"/>
<line x1="396.60" y1="301.14" x2="400.10" y2="301.14" stroke="#000" stroke-width="1.0" />
<line x1="396.60" y1="298.95" x2="400.10" y2="298.95" stroke="#000" stroke-width="1.0" />
<line x1="396.60" y1="297.09" x2="400.10" y2="297.09" stroke="#000" stroke-width="1.0" />
<line x1="396.60" y1="295.48" x2="400.10" y2="295.48" stroke="#000" stroke-width="1.0" />
<line x1="396.60" y1="294.07" x2="400.10" y2="294.07" stroke="#000" stroke-width="1.0" />
<line x1="393.60" y1="292.80" x2="400.10" y2="292.80" stroke="#000" stroke-width="1.3" />
<line x1="396.60" y1="284.46" x2="400.10" y2="284.46" stroke="#000" stroke-width="1.0" />
<line x1="396.60" y1="279.58" x2="400.10" y2="279.58" stroke="#000" stroke-width="1.0" />
<line x1="396.60" y1="276.12" x2="400.10" y2="276.12" stroke="#000" stroke-width="1.0" />
<line x1="396.60" y1="273.44" x2="400.10" y2="273.44" stroke="#000" stroke-width="1.0" />
<line x1="396.60" y1="271.25" x2="400.10" y2="271.25" stroke="#000" stroke-width="1.0" />
<line x1="396.60" y1="269.39" x2="400.10" y2="269.39" stroke="#000" stroke-width="1.0" />
<line x1="396.60" y1="267.78" x2="400.10" y2="267.78" stroke="#000" stroke-width="1.0" />
<line x1="396.60" y1="266.37" x2="400.10" y2="266.37" stroke="#000" stroke-width="1.0" />
<line x1="393.60" y1="265.10" x2="400.10" y2="265.10" stroke="#000" stroke-width="1.3" />
<line x1="396.60" y1="256.76" x2="400.10" y2="256.76" stroke="#000" stroke-width="1.0" />
<line x1="396.60" y1="251.88" x2="400.10" y2="251.88" stroke="#000" stroke-width="1.0" />
<line x1="396.60" y1="248.42" x2="400.10" y2="248.42" stroke="#000" stroke-width="1.0" />
<line x1="396.60" y1="245.74" x2="400.10" y2="245.74" stroke="#000" stroke-width="1.0" />
<line x1="396.60" y1="243.55" x2="400.10" y2="243.55" stroke="#000" stroke-width="1.0" />
<line x1="396.60" y1="241.69" x2="400.10" y2="241.69" stroke="#000" stroke-width="1.0" />
<line x1="396.60" y1="240.08" x2="400.10" y2="240.08" stroke="#000" stroke-width="1.0" />
<line x1="396.60" y1="238.67" x2="400.10" y2="238.67" stroke="#000" stroke-width="1.0" />
<line x1="393.60" y1="237.40" x2="400.10" y2="237.40" stroke="#000" stroke-width="1.3" />
<line x1="396.60" y1="229.06" x2="400.10" y2="229.06" stroke="#000" stroke-width="1.0" />
<line x1="396.60" y1="224.18" x2="400.10" y2="224.18" stroke="#000" stroke-width="1.0" />
<line x1="396.60" y1="220.72" x2="400.10" y2="220.72" stroke="#000" stroke-width="1.0" />
<line x1="396.60" y1="218.04" x2="400.10" y2="218.04" stroke="#000" stroke-width="1.0" />
<line x1="396.60" y1="215.85" x2="400.10" y2="215.85" stroke="#000" stroke-width="1.0" />
<line x1="396.60" y1="213.99" x2="400.10" y2="213.99" stroke="#000" stroke-width="1.0" />
<line x1="396.60" y1="212.38" x2="400.10" y2="212.38" stroke="#000" stroke-width="1.0" />
<line x1="396.60" y1="210.97" x2="400.10" y2="210.97" stroke="#000" stroke-width="1.0" />
<line x1="393.60" y1="209.70" x2="400.10" y2="209.70" stroke="#000" stroke-width="1.3" />
<line x1="396.60" y1="201.36" x2="400.10" y2="201.36" stroke="#000" stroke-width="1.0" />
<line x1="396.60" y1="196.48" x2="400.10" y2="196.48" stroke="#000" stroke-width="1.0" />
<line x1="396.60" y1="193.02" x2="400.10" y2="193.02" stroke="#000" stroke-width="1.0" />
<line x1="396.60" y1="190.34" x2="400.10" y2="190.34" stroke="#000" stroke-width="1.0" />
<line x1="396.60" y1="188.15" x2="400.10" y2="188.15" stroke="#000" stroke-width="1.0" />
<line x1="396.60" y1="186.29" x2="400.10" y2="186.29" stroke="#000" stroke-width="1.0" />
<line x1="400.10" y1="301.05" x2="400.10" y2="306.45" stroke="#000" stroke-width="1.2" />
<line x1="437.97" y1="301.05" x2="437.97" y2="306.45" stroke="#000" stroke-width="1.2" />
<line x1="475.84" y1="301.05" x2="475.84" y2="306.45" stroke="#000" stroke-width="1.2" />
<line x1="513.71" y1="301.05" x2="513.71" y2="306.45" stroke="#000" stroke-width="1.2" />
<polyline points="400.10,292.80 409.40,292.80" fill="none" stroke="#000" stroke-width="1.5" stroke-linejoin="round"/>
<polyline points="409.40,292.80 428.43,214.11 447.47,204.49 456.70,194.33 466.29,192.57 476.07,189.60 485.65,186.74 495.37,220.78" fill="none" stroke="#000" stroke-width="1.9" stroke-linejoin="round"/>
<polyline points="409.40,292.80 428.47,219.91 447.52,211.99 456.79,207.63 466.36,203.37 476.24,215.80 485.81,226.34 495.23,198.58" fill="none" stroke="#000" stroke-width="1.9" stroke-linejoin="round"/>
<polyline points="409.40,292.80 428.69,254.51 447.68,237.89 457.00,239.83 457.07,250.73 466.77,266.37 476.20,286.91 485.50,292.80 494.90,292.80" fill="none" stroke="#000" stroke-width="1.4" stroke-linejoin="round"/>
<circle cx="400.10" cy="292.80" r="2.3" fill="#000" stroke="#000" stroke-width="1.0"/>
<circle cx="409.40" cy="292.80" r="2.3" fill="#000" stroke="#000" stroke-width="1.0"/>
<circle cx="428.43" cy="214.11" r="2.3" fill="#000" stroke="#000" stroke-width="1.0"/>
<circle cx="447.47" cy="204.49" r="2.3" fill="#000" stroke="#000" stroke-width="1.0"/>
<circle cx="456.70" cy="194.33" r="2.3" fill="#000" stroke="#000" stroke-width="1.0"/>
<circle cx="466.29" cy="192.57" r="2.3" fill="#000" stroke="#000" stroke-width="1.0"/>
<circle cx="476.07" cy="189.60" r="2.3" fill="#000" stroke="#000" stroke-width="1.0"/>
<circle cx="485.65" cy="186.74" r="2.3" fill="#000" stroke="#000" stroke-width="1.0"/>
<circle cx="495.37" cy="220.78" r="2.3" fill="#000" stroke="#000" stroke-width="1.0"/>
<polygon points="428.47,222.40 426.17,218.26 430.77,218.26" fill="#000" stroke="#000" stroke-width="1.0"/>
<polygon points="447.52,214.47 445.22,210.33 449.82,210.33" fill="#000" stroke="#000" stroke-width="1.0"/>
<polygon points="456.79,210.11 454.49,205.97 459.09,205.97" fill="#000" stroke="#000" stroke-width="1.0"/>
<polygon points="466.36,205.85 464.06,201.71 468.66,201.71" fill="#000" stroke="#000" stroke-width="1.0"/>
<polygon points="476.24,218.29 473.94,214.15 478.54,214.15" fill="#000" stroke="#000" stroke-width="1.0"/>
<polygon points="485.81,228.83 483.51,224.69 488.11,224.69" fill="#000" stroke="#000" stroke-width="1.0"/>
<polygon points="495.23,201.07 492.93,196.93 497.53,196.93" fill="#000" stroke="#000" stroke-width="1.0"/>
<rect x="426.59" y="252.41" width="4.2" height="4.2" fill="#000"/>
<rect x="445.58" y="235.79" width="4.2" height="4.2" fill="#000"/>
<rect x="454.90" y="237.73" width="4.2" height="4.2" fill="#000"/>
<rect x="454.97" y="248.63" width="4.2" height="4.2" fill="#000"/>
<rect x="464.67" y="264.27" width="4.2" height="4.2" fill="#000"/>
<rect x="474.10" y="284.81" width="4.2" height="4.2" fill="#000"/>
<rect x="483.40" y="290.70" width="4.2" height="4.2" fill="#000"/>
<rect x="492.80" y="290.70" width="4.2" height="4.2" fill="#000"/>
<text x="399.90" y="333.30" font-size="19.2" text-anchor="middle" font-weight="normal" >0</text>
<text x="437.77" y="333.30" font-size="19.2" text-anchor="middle" font-weight="normal" >1</text>
<text x="475.64" y="333.30" font-size="19.2" text-anchor="middle" font-weight="normal" >2</text>
<text x="513.51" y="333.30" font-size="19.2" text-anchor="middle" font-weight="normal" >3</text>
<text x="456.20" y="353.50" font-size="15.6" text-anchor="middle" font-weight="normal" >Months after Start</text>
<line x1="402.60" y1="161.75" x2="402.60" y2="178.35" stroke="#000" stroke-width="1.8" />
<polygon points="398.50,176.65 406.70,176.65 402.60,184.75" fill="#000"/>
<line x1="412.46" y1="161.75" x2="412.46" y2="178.35" stroke="#000" stroke-width="1.8" />
<polygon points="408.36,176.65 416.56,176.65 412.46,184.75" fill="#000"/>
<line x1="422.32" y1="161.75" x2="422.32" y2="178.35" stroke="#000" stroke-width="1.8" />
<polygon points="418.22,176.65 426.42,176.65 422.32,184.75" fill="#000"/>
<line x1="432.18" y1="161.75" x2="432.18" y2="178.35" stroke="#000" stroke-width="1.8" />
<polygon points="428.08,176.65 436.28,176.65 432.18,184.75" fill="#000"/>
<line x1="442.04" y1="161.75" x2="442.04" y2="178.35" stroke="#000" stroke-width="1.8" />
<polygon points="437.94,176.65 446.14,176.65 442.04,184.75" fill="#000"/>
<line x1="451.90" y1="161.75" x2="451.90" y2="178.35" stroke="#000" stroke-width="1.8" />
<polygon points="447.80,176.65 456.00,176.65 451.90,184.75" fill="#000"/>
<line x1="461.76" y1="161.75" x2="461.76" y2="178.35" stroke="#000" stroke-width="1.8" />
<polygon points="457.66,176.65 465.86,176.65 461.76,184.75" fill="#000"/>
<line x1="471.62" y1="161.75" x2="471.62" y2="178.35" stroke="#000" stroke-width="1.8" />
<polygon points="467.52,176.65 475.72,176.65 471.62,184.75" fill="#000"/>
<line x1="481.48" y1="161.75" x2="481.48" y2="178.35" stroke="#000" stroke-width="1.8" />
<polygon points="477.38,176.65 485.58,176.65 481.48,184.75" fill="#000"/>
<line x1="491.34" y1="161.75" x2="491.34" y2="178.35" stroke="#000" stroke-width="1.8" />
<polygon points="487.24,176.65 495.44,176.65 491.34,184.75" fill="#000"/>
<path d="M447.53,136.79 L449.63,136.79 C450.13,141.99 453.53,144.19 461.53,144.49 L489.53,145.49 C497.53,145.79 502.53,148.29 503.03,154.69 L498.33,154.69 C497.93,150.59 494.53,148.79 488.53,148.59 L460.53,147.59 C453.53,147.29 449.03,145.69 447.53,141.69 Z M447.53,136.79 L445.43,136.79 C444.93,141.99 441.53,144.19 433.53,144.49 L405.53,145.49 C397.53,145.79 392.53,148.29 392.03,154.69 L396.73,154.69 C397.13,150.59 400.53,148.79 406.53,148.59 L434.53,147.59 C441.53,147.29 446.03,145.69 447.53,141.69 Z" fill="#000" stroke="#000" stroke-width="0.35"/>
<text x="138.25" y="16.48" font-size="19.5" text-anchor="middle" font-weight="normal" stroke="#000" stroke-width="0.2">RV as</text>
<text x="139.58" y="37.57" font-size="19.3" text-anchor="middle" font-weight="normal" stroke="#000" stroke-width="0.2">Newborns</text>
<text x="254.45" y="15.83" font-size="19.5" text-anchor="start" font-weight="normal" stroke="#000" stroke-width="0.2">RV at 2 to</text>
<text x="254.39" y="37.93" font-size="19.4" text-anchor="start" font-weight="normal" stroke="#000" stroke-width="0.2">3 Months</text>
<text x="394.16" y="110.73" font-size="19.3" text-anchor="start" font-weight="normal" stroke="#000" stroke-width="0.2">hFIX Protein</text>
<text x="394.30" y="131.93" font-size="19.3" text-anchor="start" font-weight="normal" stroke="#000" stroke-width="0.2">at 2 Months</text>
<text x="35.67" y="35.75" font-size="24.6" text-anchor="start" font-weight="bold" stroke="#000" stroke-width="0.45">A</text>
<text x="215.37" y="34.99" font-size="24.6" text-anchor="start" font-weight="bold" stroke="#000" stroke-width="0.45">B</text>
<text x="40.04" y="185.42" font-size="24.6" text-anchor="start" font-weight="bold" stroke="#000" stroke-width="0.45">C</text>
<text x="213.43" y="183.20" font-size="24.6" text-anchor="start" font-weight="bold" stroke="#000" stroke-width="0.45">D</text>
<text x="370.63" y="182.89" font-size="24.6" text-anchor="start" font-weight="bold" stroke="#000" stroke-width="0.45">E</text>
<text transform="translate(12.68,99.40) rotate(-90)" font-size="15.9" text-anchor="middle">hFIX Antigen</text>
<text transform="translate(30.49,100.08) rotate(-90)" font-size="15.8" text-anchor="middle">(ng/mL)</text>
<text transform="translate(13.60,242.49) rotate(-90)" font-size="15.85" text-anchor="middle">Anti-hFIX Antibody</text>
<text transform="translate(33.32,244.47) rotate(-90)" font-size="15.75" text-anchor="middle">(relative µg/mL)</text>
</g>
</svg>
</body></html>
